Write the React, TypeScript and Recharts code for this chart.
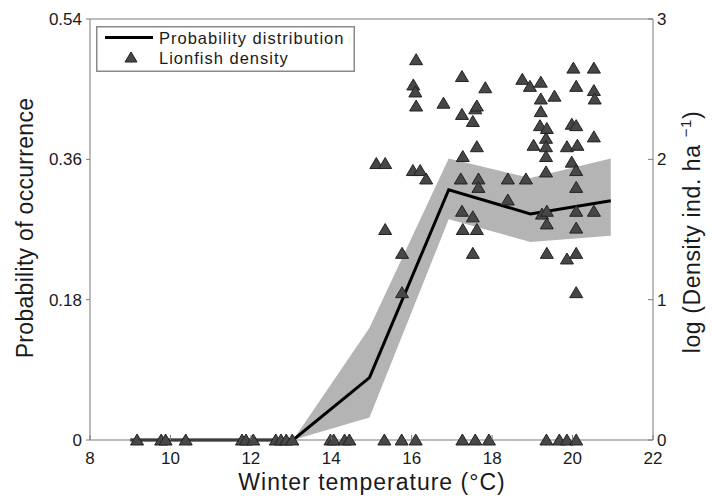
import React from "react";
import { ComposedChart, XAxis, YAxis, Area, Line, Scatter } from "recharts";

// model output (left axis, probability of occurrence)
const MODEL_T = [9, 13.05, 14.95, 16.92, 18.95, 20.95];
const MODEL_P = [0, 0, 0.08, 0.321, 0.29, 0.307];
const BAND_T = [13.05, 14.95, 16.92, 18.95, 20.95];
const BAND_LO = [0, 0.029, 0.283, 0.254, 0.262];
const BAND_HI = [0, 0.144, 0.361, 0.336, 0.361];

// survey sites where no lionfish were seen (right axis = 0)
const ABSENT_T = [
  9.17, 9.77, 9.88, 10.38, 11.78, 11.88, 12.06, 12.62, 12.75, 12.88, 13.03,
  13.98, 14.06, 14.33, 14.45, 15.32, 15.75, 16.1, 17.26, 17.58, 17.92, 19.35,
  19.67, 19.86, 20.09,
];

// sites with lionfish: temperature and log density
const PRESENT_T = [
  16.11, 16.04, 16.09, 16.11, 16.79, 17.25, 17.83, 17.25, 17.58, 17.62, 17.52,
  17.62, 17.27, 15.12, 15.34, 16.03, 16.21, 16.36, 17.22, 17.66, 17.66, 18.39,
  18.84, 18.39, 17.25, 17.52, 17.27, 17.62, 17.52, 15.34, 15.76, 15.76, 18.75,
  18.94, 19.21, 19.55, 19.21, 19.21, 19.19, 19.36, 19.34, 19.03, 19.34, 19.34,
  19.34, 19.24, 19.36, 19.36, 19.36, 20.02, 20.53, 20.09, 20.53, 20.55, 19.98,
  20.09, 20.53, 19.86, 20.12, 19.98, 20.09, 20.09, 20.09, 20.53, 20.09, 20.09,
  19.86, 20.09,
];
const PRESENT_V = [
  2.71, 2.53, 2.48, 2.38, 2.4, 2.59, 2.51, 2.32, 2.36, 2.38, 2.27, 2.09, 2.02,
  1.97, 1.97, 1.92, 1.92, 1.86, 1.86, 1.86, 1.8, 1.86, 1.86, 1.71, 1.63, 1.59,
  1.5, 1.5, 1.33, 1.5, 1.33, 1.05, 2.57, 2.52, 2.55, 2.45, 2.43, 2.34, 2.24,
  2.22, 2.15, 2.1, 2.09, 2.02, 1.91, 1.61, 1.63, 1.54, 1.33, 2.65, 2.65, 2.52,
  2.49, 2.43, 2.25, 2.24, 2.16, 2.09, 2.1, 1.98, 1.92, 1.8, 1.63, 1.63, 1.51,
  1.33, 1.29, 1.05,
];

const X_TICKS = [8, 10, 12, 14, 16, 18, 20, 22];
const P_TICKS = [0, 0.18, 0.36, 0.54];
const D_TICKS = [0, 1, 2, 3];

const modelData = MODEL_T.map((x, i) => ({ x, p: MODEL_P[i] }));
const bandData = BAND_T.map((x, i) => ({ x, band: [BAND_LO[i], BAND_HI[i]] }));
const densityData = [
  ...ABSENT_T.map((x) => ({ x, v: 0 })),
  ...PRESENT_T.map((x, i) => ({ x, v: PRESENT_V[i] })),
];

const FONT = "Arial, 'Liberation Sans', Helvetica, sans-serif";
const TEXT = "#1a1a1a";
const AXIS = "#7a7a7a";

const BottomTick = (props: any) => {
  const { x, y, payload } = props;
  return (
    <g>
      <line x1={x} y1={y} x2={x} y2={y - 5} stroke={AXIS} />
      <text x={x} y={y + 24} textAnchor="middle" fontSize={17} fill={TEXT} fontFamily={FONT}>
        {payload.value}
      </text>
    </g>
  );
};

const TopTick = (props: any) => {
  const { x, y } = props;
  return <line x1={x} y1={y} x2={x} y2={y + 5} stroke={AXIS} />;
};

const LeftTick = (props: any) => {
  const { x, y, payload } = props;
  return (
    <g>
      <line x1={x - 4} y1={y} x2={x} y2={y} stroke={AXIS} />
      <text x={x - 8} y={y} dy="0.35em" textAnchor="end" fontSize={17} fill={TEXT} fontFamily={FONT}>
        {payload.value}
      </text>
    </g>
  );
};

const RightTick = (props: any) => {
  const { x, y, payload } = props;
  return (
    <g>
      <line x1={x - 5} y1={y} x2={x} y2={y} stroke={AXIS} />
      <text x={x + 4} y={y} dy="0.35em" textAnchor="start" fontSize={17} fill={TEXT} fontFamily={FONT}>
        {payload.value}
      </text>
    </g>
  );
};

const XTitle = () => (
  <text x={372} y={490} textAnchor="middle" fontSize={23} letterSpacing={1} fill={TEXT} fontFamily={FONT}>
    Winter temperature (°C)
  </text>
);

const LeftTitle = () => (
  <text
    x={33}
    y={228}
    transform="rotate(-90, 33, 228)"
    textAnchor="middle"
    fontSize={23}
    letterSpacing={0.3}
    fill={TEXT}
    fontFamily={FONT}
  >
    Probability of occurrence
  </text>
);

const RightTitle = () => (
  <text
    x={700}
    y={232}
    transform="rotate(-90, 700, 232)"
    textAnchor="middle"
    fontSize={23}
    letterSpacing={0.6}
    fill={TEXT}
    fontFamily={FONT}
  >
    log (Density ind. ha{" "}
    <tspan dy={-9} fontSize={15}>
      −1
    </tspan>
    <tspan dy={9}>)</tspan>
  </text>
);

// legend drawn in the top-left corner of the plot, like the MATLAB box
const LegendBox = () => (
  <g transform="translate(96, 26)">
    <rect x={0.75} y={0.75} width={257.5} height={44.5} fill="#fff" stroke="#8a8a8a" strokeWidth={1.5} />
    <line x1={9} y1={11.5} x2={57} y2={11.5} stroke="#000" strokeWidth={3} />
    <path d="M35,26 L41,36 L29,36 Z" fill="#474747" stroke="#222" strokeWidth={1} />
    <text x={63} y={18} fontSize={16.5} letterSpacing={1} fill={TEXT} fontFamily={FONT}>
      Probability distribution
    </text>
    <text x={63} y={37.5} fontSize={16.5} letterSpacing={1} fill={TEXT} fontFamily={FONT}>
      Lionfish density
    </text>
  </g>
);

const TopLabel = () => <LegendBox />;

const Triangle = (props: any) => {
  const { cx, cy } = props;
  if (cx == null || cy == null) return null;
  return (
    <path
      d={`M${cx},${cy - 6} L${cx + 6.5},${cy + 5} L${cx - 6.5},${cy + 5} Z`}
      fill="#474747"
      stroke="#222"
      strokeWidth={1}
    />
  );
};

export default function App() {
  return (
    <div style={{ position: "absolute", left: 0, top: 0, background: "#fff" }}>
      <ComposedChart
        width={712}
        height={499}
        margin={{ top: 18, right: 19, bottom: 0, left: 30 }}
      >
        <XAxis
          dataKey="x"
          type="number"
          domain={[8, 22]}
          ticks={X_TICKS}
          allowDataOverflow
          height={59}
          axisLine={{ stroke: AXIS }}
          tickLine={false}
          tickSize={0}
          tickMargin={0}
          tick={<BottomTick />}
          label={<XTitle />}
        />
        <YAxis
          yAxisId="p"
          type="number"
          domain={[0, 0.54]}
          ticks={P_TICKS}
          width={60}
          axisLine={{ stroke: AXIS }}
          tickLine={false}
          tickSize={0}
          tickMargin={0}
          tick={<LeftTick />}
          label={<LeftTitle />}
        />
        <YAxis
          yAxisId="d"
          orientation="right"
          dataKey="v"
          type="number"
          domain={[0, 3]}
          ticks={D_TICKS}
          width={40}
          axisLine={{ stroke: AXIS }}
          tickLine={false}
          tickSize={0}
          tickMargin={0}
          tick={<RightTick />}
          label={<RightTitle />}
        />
        <Area
          yAxisId="p"
          data={bandData}
          dataKey="band"
          type="linear"
          stroke="none"
          fill="#b4b4b4"
          fillOpacity={1}
          isAnimationActive={false}
          legendType="none"
        />
        <Line
          yAxisId="p"
          data={modelData}
          dataKey="p"
          type="linear"
          stroke="#000"
          strokeWidth={3}
          dot={false}
          isAnimationActive={false}
        />
        <Scatter
          yAxisId="d"
          data={densityData}
          dataKey="v"
          shape={<Triangle />}
          isAnimationActive={false}
        />
        <XAxis
          xAxisId="top"
          orientation="top"
          type="number"
          domain={[8, 22]}
          ticks={X_TICKS}
          height={1}
          axisLine={{ stroke: AXIS }}
          tickLine={false}
          tickSize={0}
          tickMargin={0}
          tick={<TopTick />}
          label={<TopLabel />}
        />
      </ComposedChart>
    </div>
  );
}
